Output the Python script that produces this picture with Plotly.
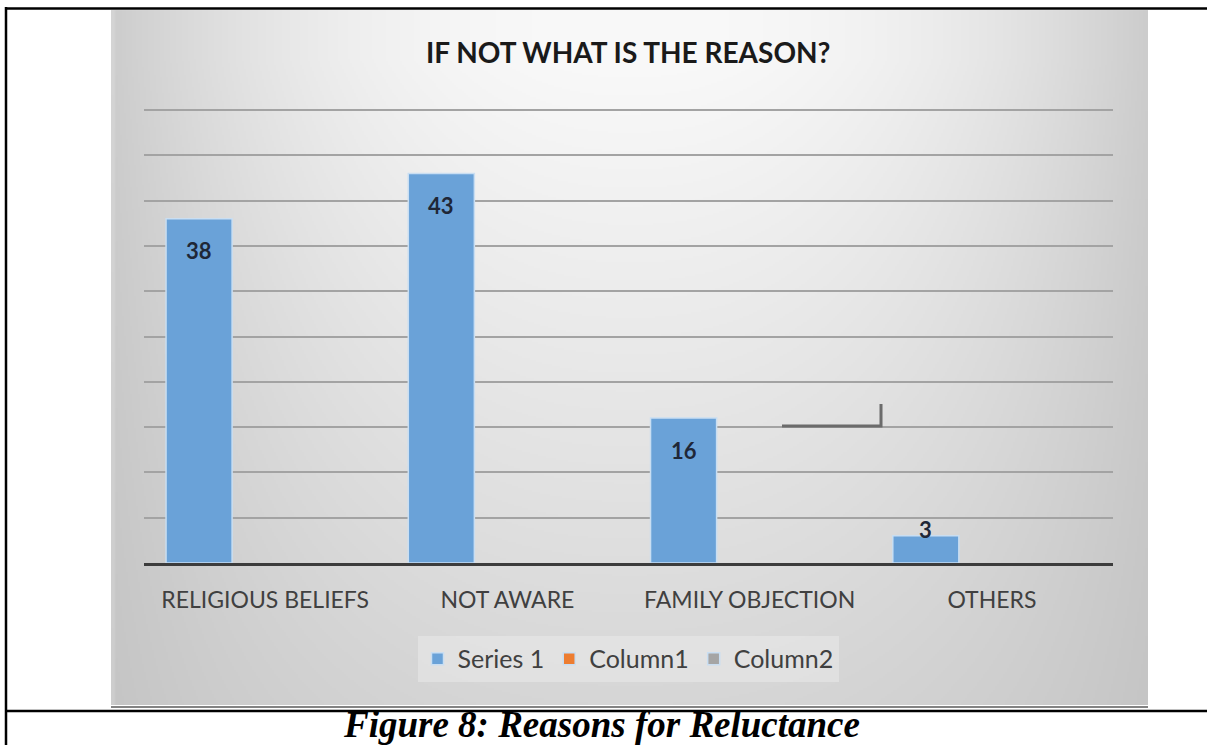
import base64
import struct
import zlib

import numpy as np
import plotly.graph_objects as go

# ---- chart data ----
categories = ["RELIGIOUS BELIEFS", "NOT AWARE", "FAMILY OBJECTION", "OTHERS"]
series_1 = [38, 43, 16, 3]
column_1 = [None, None, None, None]
column_2 = [None, None, None, None]
series_names = ["Series 1", "Column1", "Column2"]
series_colors = ["#6aa2d8", "#ed7d31", "#a5a5a5"]
title_text = "IF NOT WHAT IS THE REASON?"
caption_text = "Figure 8: Reasons for Reluctance"

# ---- page geometry (pixels) ----
W, H = 1208, 745
YMAX = 51                                      # axis top, a little above the last gridline
UNIT = 453 / 50                                # pixels per unit
PL, PR, PB = 144, 1113, 563                    # plot area
PT = PB - YMAX * UNIT
CARD = (111, 10, 1148, 705)                    # grey chart card
BARGAP = 0.182


def px(x):
    return (x - PL) / (PR - PL)


def py(y):
    return (PB - y) / (PB - PT)


def png_uri(gray):
    h, w = gray.shape
    raw = b"".join(b"\x00" + gray[i].tobytes() for i in range(h))

    def chunk(tag, data):
        c = struct.pack(">I", len(data)) + tag + data
        return c + struct.pack(">I", zlib.crc32(tag + data) & 0xFFFFFFFF)

    png = (b"\x89PNG\r\n\x1a\n"
           + chunk(b"IHDR", struct.pack(">IIBBBBB", w, h, 8, 0, 0, 0, 0))
           + chunk(b"IDAT", zlib.compress(raw, 9))
           + chunk(b"IEND", b""))
    return "data:image/png;base64," + base64.b64encode(png).decode()


# soft shading of the chart card: bright near the title, greyer toward the edges
cx0, cy0, cx1, cy1 = CARD
gw, gh = (cx1 - cx0) // 2, (cy1 - cy0) // 2
xs = cx0 + (np.arange(gw) + 0.5) * (cx1 - cx0) / gw
ys = cy0 + (np.arange(gh) + 0.5) * (cy1 - cy0) / gh
XX, YY = np.meshgrid(xs, ys)
fx = (np.abs(XX - 630) / 520) ** 2.3
fy = np.clip((YY - 60) / 645, 0, None)
shade = 249 - 45 * fx - 35 * fy + 28 * fx * fy
shade[:, :2] += 8
shade = np.clip(shade, 0, 255).astype(np.uint8)

fig = go.Figure()
for name, vals, col in zip(series_names, [series_1, column_1, column_2], series_colors):
    fig.add_trace(go.Bar(
        x=categories, y=vals, name=name,
        marker=dict(color=col, line=dict(color="#c9def2", width=1.5)),
        hoverinfo="skip",
    ))

# value labels near the top of each bar
ngroups = len(series_names)
slot = (1 - BARGAP) / ngroups
for i, v in enumerate(series_1):
    fig.add_annotation(
        x=i - slot, y=v, xref="x", yref="y",
        text=f"<b>{v}</b>", showarrow=False,
        font=dict(family="Lato", size=22, color="#1f2737"),
        yanchor="middle", yshift=-32 if v >= 6 else 6,
    )

# title
fig.add_annotation(
    x=px(628), y=py(52), xref="paper", yref="paper",
    text=f"<b>{title_text}</b>", showarrow=False,
    font=dict(family="Lato", size=28, color="#1a1a1a"),
    xanchor="center", yanchor="middle",
)

# caption below the card
fig.add_annotation(
    x=px(601), y=py(725), xref="paper", yref="paper",
    text=f"<b><i>{caption_text}</i></b>", showarrow=False,
    font=dict(family="Liberation Serif", size=37, color="#000000"),
    xanchor="center", yanchor="middle",
)

shapes = [
    # table frame
    dict(type="line", x0=px(5), x1=px(W - 1), y0=py(8.5), y1=py(8.5),
         line=dict(color="#000000", width=2.5)),
    dict(type="line", x0=px(6), x1=px(6), y0=py(7), y1=py(H),
         line=dict(color="#000000", width=2.5)),
    dict(type="line", x0=px(111), x1=px(1148), y0=py(707), y1=py(707),
         line=dict(color="#5a5a5a", width=1.5)),
    dict(type="line", x0=px(5), x1=px(W - 1), y0=py(711), y1=py(711),
         line=dict(color="#000000", width=2.5)),
    # stray connector mark inside the plot
    dict(type="path",
         path=f"M {px(782)},{py(426)} L {px(881)},{py(426)} L {px(881)},{py(404)}",
         line=dict(color="#6b6b6b", width=3)),
]
for s in shapes:
    s["xref"] = "paper"
    s["yref"] = "paper"
    s["layer"] = "above"

fig.update_layout(
    width=W, height=H,
    margin=dict(l=PL, r=W - PR, t=round(PT), b=H - PB, pad=0),
    paper_bgcolor="#ffffff",
    plot_bgcolor="rgba(0,0,0,0)",
    barmode="group", bargap=BARGAP, bargroupgap=0,
    showlegend=True,
    legend=dict(
        orientation="h", x=px(628), y=py(659),
        xanchor="center", yanchor="middle",
        bgcolor="rgba(236,236,236,0.5)",
        font=dict(family="Lato", size=25, color="#404040"),
        itemclick=False, itemdoubleclick=False,
    ),
    images=[dict(
        source=png_uri(shade), xref="paper", yref="paper",
        x=px(cx0), y=py(cy0), sizex=px(cx1) - px(cx0), sizey=py(cy0) - py(cy1),
        xanchor="left", yanchor="top", sizing="stretch", layer="below",
    )],
    shapes=shapes,
    xaxis=dict(
        type="category", showgrid=False, zeroline=False,
        showline=True, linecolor="#3c3c3c", linewidth=3,
        ticks="outside", ticklen=14, tickcolor="rgba(0,0,0,0)",
        tickfont=dict(family="Lato", size=23, color="#404040"),
        fixedrange=True,
    ),
    yaxis=dict(
        range=[0, YMAX], tick0=0, dtick=5, showticklabels=False,
        showgrid=True, gridcolor="#a3a3a3", gridwidth=1.5,
        zeroline=False, showline=False, fixedrange=True,
    ),
)

fig.write_html("out.html", config={"displayModeBar": False})
